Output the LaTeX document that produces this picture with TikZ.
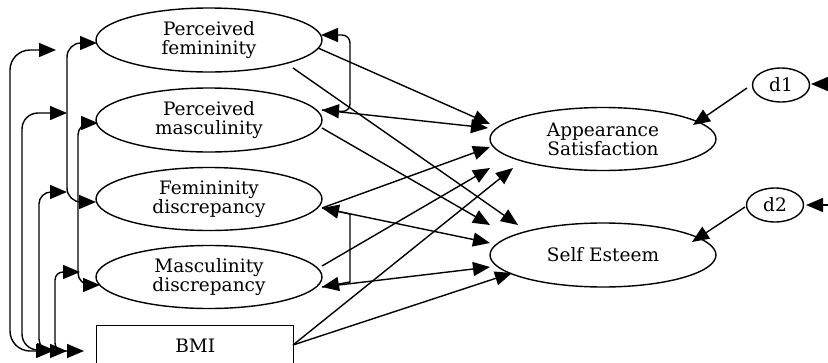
\documentclass[tikz,border=0pt]{standalone}
\usepackage{fontspec}
\setmainfont{DejaVu Serif}
\usetikzlibrary{arrows.meta,shapes.geometric}
\begin{document}
\begin{tikzpicture}[x=1pt,y=-1pt,line width=1.4pt,
  >={Triangle[length=17pt,width=14pt]},
  txt/.style={font=\fontsize{18.5}{19}\selectfont, align=center, inner sep=0pt},
  lat/.style={txt, draw, ellipse, minimum width=226pt, minimum height=63pt},
  res/.style={txt, draw, ellipse, minimum width=57pt, minimum height=34pt},
  obs/.style={txt, draw, rectangle, minimum width=197pt, minimum height=40pt, anchor=north west},
  effect/.style={->},
  cov/.style={<->}]
\useasboundingbox (0,0) rectangle (828,362);
\clip (0,0) rectangle (828,362);
% nodes
\node[lat, minimum height=64pt] (PF) at (209,40) {Perceived\\femininity};
\node[lat, minimum height=64pt] (PM) at (209,120) {Perceived\\masculinity};
\node[lat] (FD) at (209,199) {Femininity\\discrepancy};
\node[lat] (MD) at (209,277) {Masculinity\\discrepancy};
\node[obs] (BMI) at (96,325) {BMI};
\node[lat] (AS) at (603,139) {Appearance\\Satisfaction};
\node[lat, minimum height=64pt] (SE) at (603,255) {Self Esteem};
\node[res] (d1) at (781,85) {d1};
\node[res] (d2) at (775,205) {d2};
% connection points
\coordinate (t1) at (56,50);   \coordinate (b1) at (53,351);
\coordinate (t2) at (67,113);  \coordinate (b2) at (54,350);
\coordinate (t3) at (67,192);  \coordinate (b3) at (67,351);
\coordinate (t4) at (80,272);  \coordinate (b4) at (84,351);
\coordinate (PFl) at (97,43);  \coordinate (FDl) at (96,202);
\coordinate (PMl) at (98,123); \coordinate (MDl) at (100,285);
\coordinate (PFr) at (321,35); \coordinate (PMr) at (322,110);
\coordinate (FDr) at (322,208); \coordinate (MDr) at (322,287);
\coordinate (PFa) at (318,48); \coordinate (PFs) at (293,68);
\coordinate (PMs) at (322,128); \coordinate (MDa) at (322,266);
\coordinate (BMIr) at (293,345);
\coordinate (ASa) at (490,124); \coordinate (ASb) at (488,128);
\coordinate (ASc) at (490,147); \coordinate (ASd) at (490,168);
\coordinate (ASe) at (513,168); \coordinate (ASf) at (693,125);
\coordinate (SEa) at (518,225); \coordinate (SEb) at (490,225);
\coordinate (SEc) at (490,243); \coordinate (SEd) at (490,267);
\coordinate (SEe) at (512,273); \coordinate (SEf) at (692,242);
\coordinate (d1s) at (747,88); \coordinate (d2s) at (745,207);
\coordinate (e1) at (830,84); \coordinate (e2) at (830,205);
\coordinate (d1r) at (811,84); \coordinate (d2r) at (806,205);
% left covariances
\draw[cov, rounded corners=20pt] (t1) -- (10,50) -- (10,351) -- (b1);
\draw[cov, rounded corners=16pt] (t2) -- (22,113) -- (22,350) -- (b2);
\draw[cov, rounded corners=12pt] (t3) -- (39,192) -- (39,351) -- (b3);
\draw[cov, rounded corners=8pt] (t4) -- (55,272) -- (55,351) -- (b4);
\draw[cov, rounded corners=14pt] (PFl) -- (67,43) -- (67,202) -- (FDl);
\draw[cov, rounded corners=12pt] (PMl) -- (78,123) -- (78,285) -- (MDl);
% right covariances
\draw[cov, rounded corners=8pt] (PFr) -- (350,35) -- (350,112) -- (PMr);
\draw[cov] (FDr) -- (350,214) -- (350,282) -- (MDr);
% effects
\draw[effect] (PFa) -- (ASa);
\draw[effect] (PMr) -- (ASb);
\draw[effect] (FDr) -- (ASc);
\draw[effect] (MDa) -- (ASd);
\draw[effect] (BMIr) -- (ASe);
\draw[effect] (PFs) -- (SEa);
\draw[effect] (PMs) -- (SEb);
\draw[effect] (FDr) -- (SEc);
\draw[effect] (MDr) -- (SEd);
\draw[effect] (BMIr) -- (SEe);
\draw[effect] (d1s) -- (ASf);
\draw[effect] (d2s) -- (SEf);
\draw[effect] (e1) -- (d1r);
\draw[effect] (e2) -- (d2r);
\end{tikzpicture}
\end{document}
